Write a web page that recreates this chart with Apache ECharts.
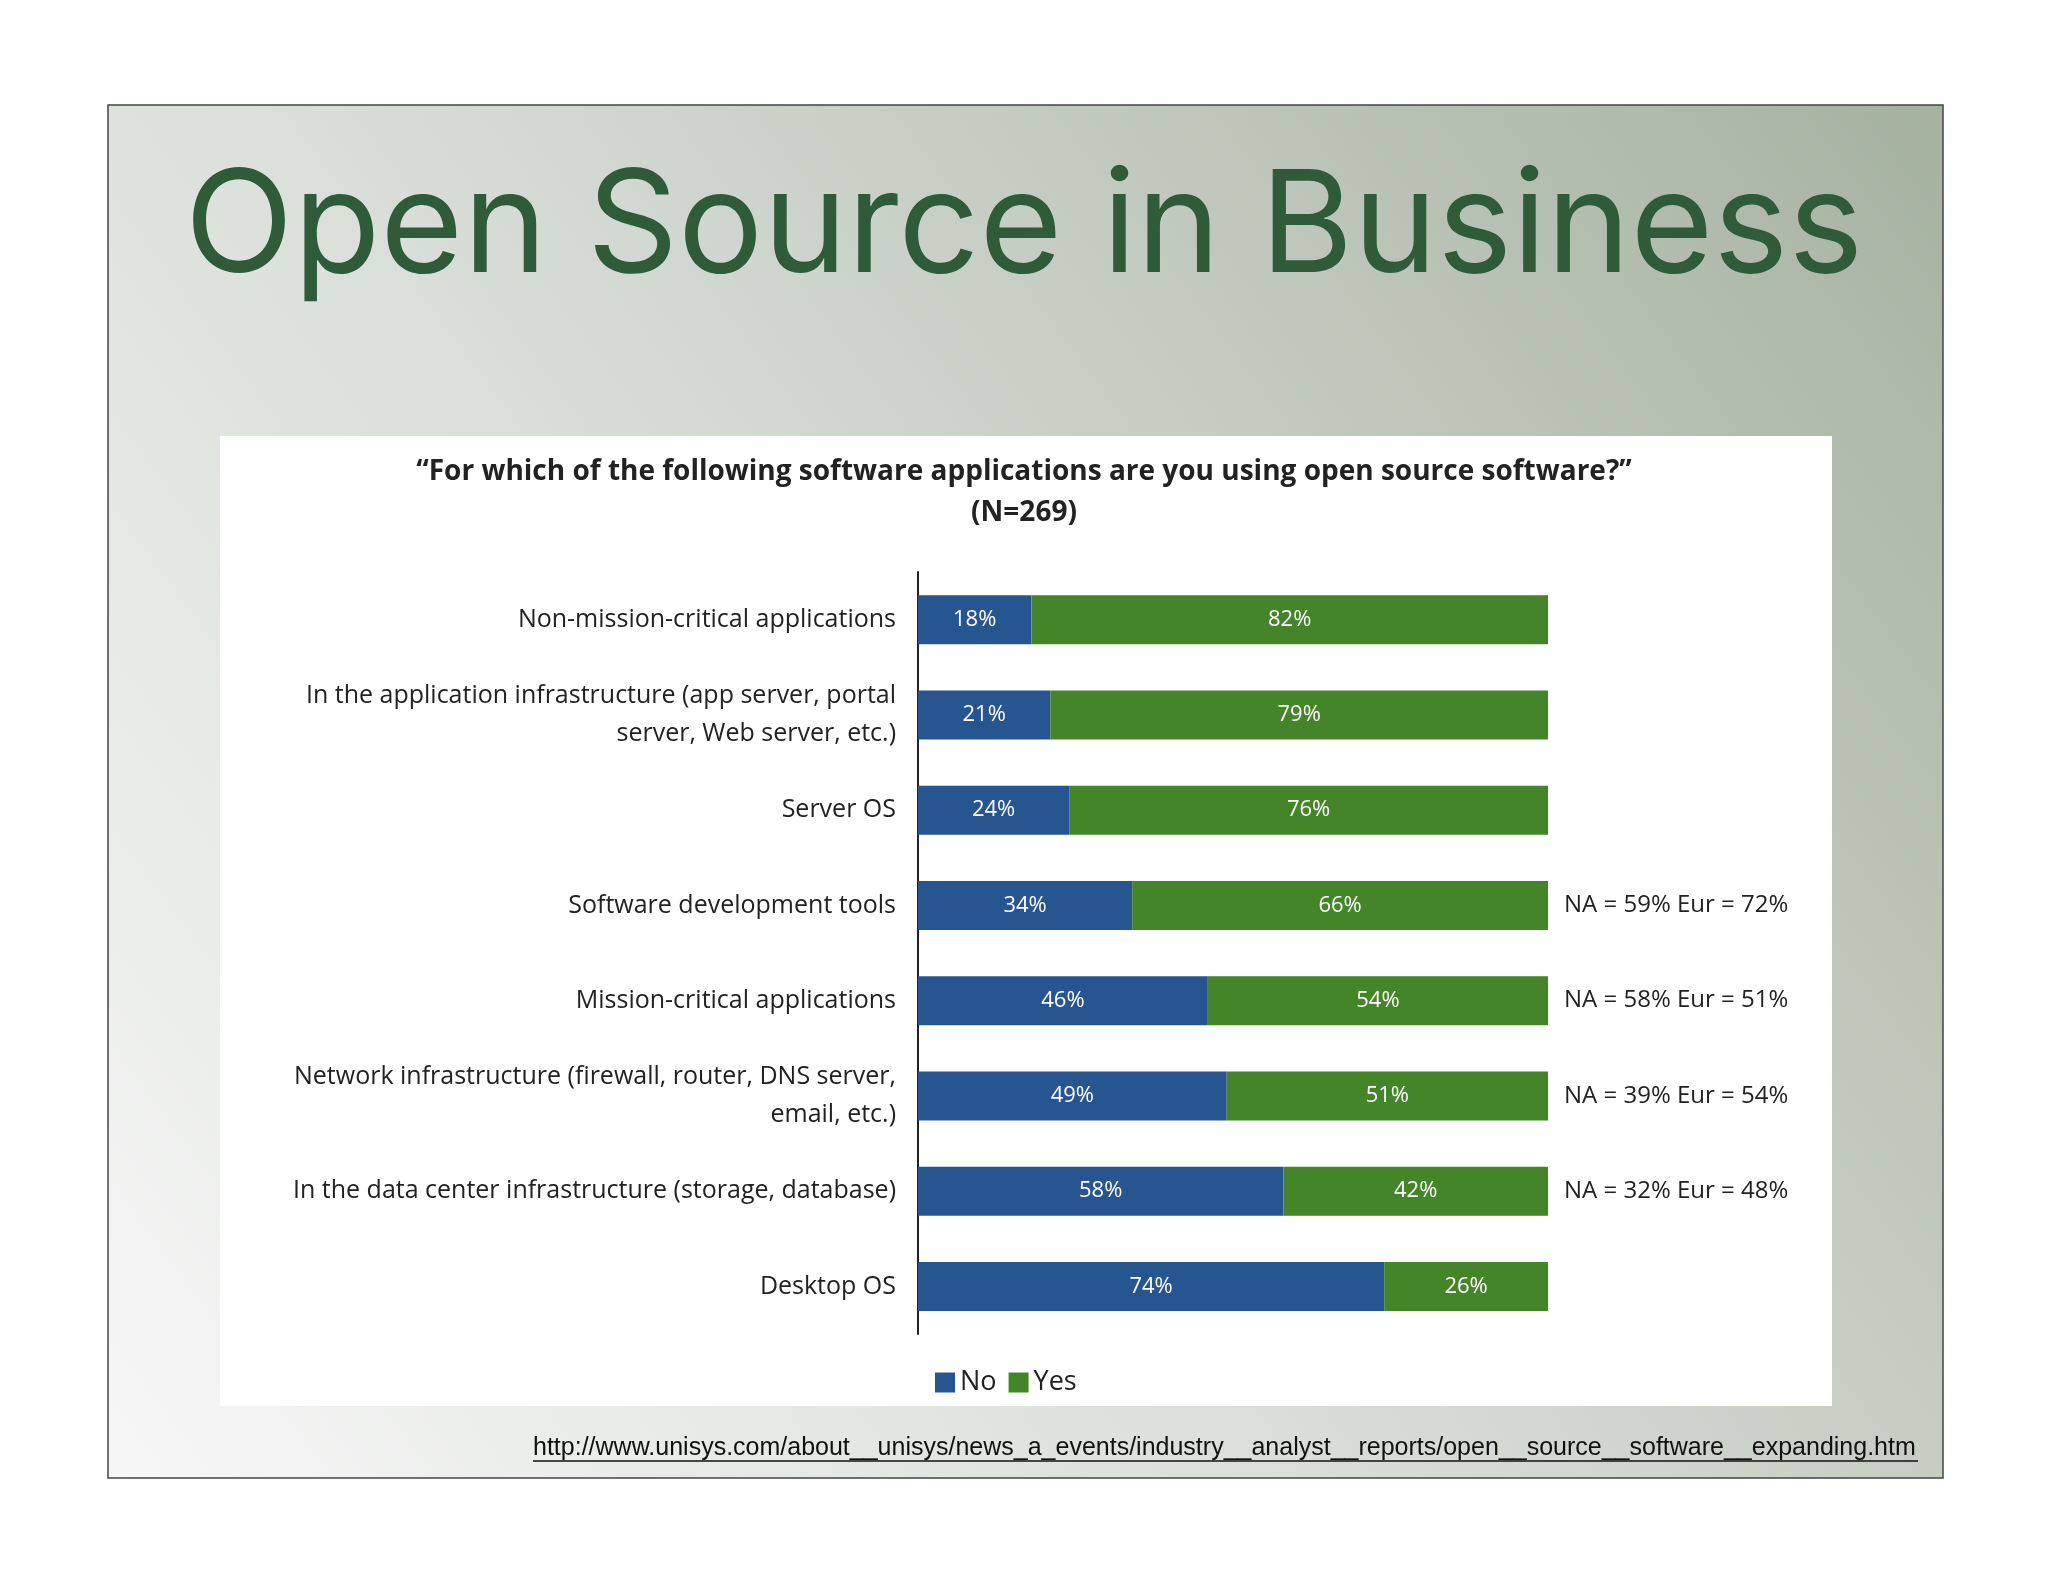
<!DOCTYPE html>
<html><head><meta charset="utf-8">
<script src="https://cdn.jsdelivr.net/npm/echarts@6/dist/echarts.min.js"></script>
<style>html,body{margin:0;padding:0;background:#fff}#c{width:2048px;height:1582px}</style>
</head><body><div id="c"></div>
<script>
const categories = ["Non-mission-critical applications","In the application infrastructure (app server, portal\nserver, Web server, etc.)","Server OS","Software development tools","Mission-critical applications","Network infrastructure (firewall, router, DNS server,\nemail, etc.)","In the data center infrastructure (storage, database)","Desktop OS"];
const noValues = [18,21,24,34,46,49,58,74];
const yesValues = [82,79,76,66,54,51,42,26];
const regionNotes = ["","","","NA = 59% Eur = 72%","NA = 58% Eur = 51%","NA = 39% Eur = 54%","NA = 32% Eur = 48%",""];
const chart = echarts.init(document.getElementById('c'));
const lblFont = "'Open Sans', 'Noto Sans', sans-serif";
chart.setOption({
  animation:false,
  graphic:[
    {type:'rect',z:-10,shape:{x:108,y:105,width:1835,height:1373},
     style:{stroke:'#444',lineWidth:1.5,fill:new echarts.graphic.LinearGradient(1,0,0,1,[{offset:0,color:'#a6b2a0'},{offset:0.55,color:'#d7ddd6'},{offset:1,color:'#f7f7f7'}])}},
    {type:'rect',z:-9,shape:{x:220,y:436,width:1612,height:970},style:{fill:'#ffffff'}},
    {type:'text',left:'center',top:158,style:{text:'Open Source in Business',font:'400 142px Inter, "Liberation Sans", sans-serif',fill:'#2f5b38'}},
    {type:'text',x:1024,y:493,style:{text:'\u201cFor which of the following software applications are you using open source software?\u201d\n(N=269)',font:'bold 28px "Open Sans", sans-serif',fill:'#222',align:'center',verticalAlign:'middle',lineHeight:41}},
    {type:'text',x:533,y:1448,style:{text:'http://www.unisys.com/about__unisys/news_a_events/industry__analyst__reports/open__source__software__expanding.htm',font:'25px "Liberation Sans", Arial, sans-serif',fill:'#111',verticalAlign:'middle'}},
    {type:'line',shape:{x1:533,y1:1461,x2:1918,y2:1461},style:{stroke:'#111',lineWidth:1.5}}
  ],
  grid:{left:918,top:572,width:630,height:762},
  xAxis:{type:'value',min:0,max:100,show:false},
  yAxis:[
    {type:'category',inverse:true,data:categories,axisTick:{show:false},
     axisLine:{lineStyle:{color:'#222',width:2}},
     axisLabel:{margin:22,fontSize:25,fontFamily:lblFont,color:'#222',align:'right',lineHeight:38}},
    {type:'category',inverse:true,position:'right',data:regionNotes,axisTick:{show:false},axisLine:{show:false},
     axisLabel:{margin:16,fontSize:24,fontFamily:lblFont,color:'#222',align:'left'}}
  ],
  legend:{left:930,top:1364,itemWidth:20,itemHeight:20,itemGap:12,icon:'rect',
    textStyle:{fontSize:27,fontFamily:lblFont,color:'#222',padding:[0,0,0,0]},data:['No','Yes']},
  series:[
    {name:'No',type:'bar',stack:'s',data:noValues,barWidth:49,itemStyle:{color:'#27558f'},
     label:{show:true,position:'inside',formatter:'{c}%',color:'#fff',fontSize:22,fontFamily:lblFont}},
    {name:'Yes',type:'bar',stack:'s',data:yesValues,barWidth:49,itemStyle:{color:'#438528'},
     label:{show:true,position:'inside',formatter:'{c}%',color:'#fff',fontSize:22,fontFamily:lblFont}}
  ]
});
</script></body></html>
